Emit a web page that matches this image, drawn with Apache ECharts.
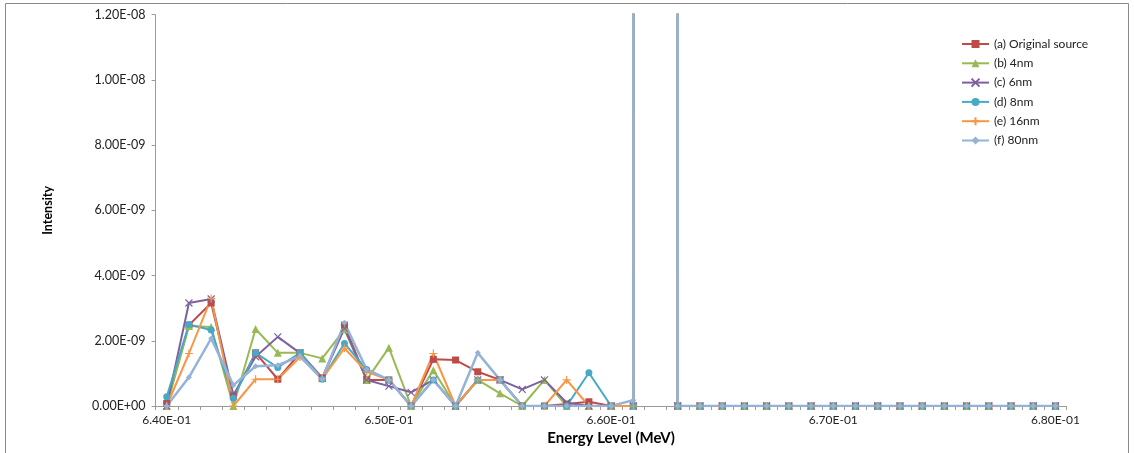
<!DOCTYPE html>
<html>
<head>
<meta charset="utf-8">
<script src="https://cdn.jsdelivr.net/npm/echarts@6/dist/echarts.min.js"></script>
<style>
  html, body { margin: 0; padding: 0; background: #fff; }
  #chart { width: 1134px; height: 453px; }
</style>
</head>
<body>
<div id="chart"></div>
<script>
// energy categories (MeV)
var energies = [
  0.640, 0.641, 0.642, 0.643, 0.644, 0.645, 0.646, 0.647, 0.648, 0.649,
  0.650, 0.651, 0.652, 0.653, 0.654, 0.655, 0.656, 0.657, 0.658, 0.659,
  0.660, 0.661, 0.662, 0.663, 0.664, 0.665, 0.666, 0.667, 0.668, 0.669,
  0.670, 0.671, 0.672, 0.673, 0.674, 0.675, 0.676, 0.677, 0.678, 0.679,
  0.680
];

// intensities (0.662 is the photopeak, far off scale)
var originalSource = [
  0.08e-9, 2.48e-9, 3.16e-9, 0.30e-9, 1.63e-9, 0.82e-9, 1.63e-9, 0.86e-9, 2.48e-9, 0.80e-9,
  0.80e-9, 0, 1.43e-9, 1.41e-9, 1.05e-9, 0.80e-9, 0, 0, 0.06e-9, 0.13e-9,
  0, 0, 1e-5, 0, 0, 0, 0, 0, 0, 0,
  0, 0, 0, 0, 0, 0, 0, 0, 0, 0,
  0
];
var nm4 = [
  0, 2.45e-9, 2.42e-9, 0, 2.36e-9, 1.63e-9, 1.63e-9, 1.46e-9, 2.35e-9, 0.80e-9,
  1.79e-9, 0, 1.10e-9, 0, 0.80e-9, 0.39e-9, 0, 0.80e-9, 0, 0,
  0, 0, 1e-5, 0, 0, 0, 0, 0, 0, 0,
  0, 0, 0, 0, 0, 0, 0, 0, 0, 0,
  0
];
var nm6 = [
  0, 3.16e-9, 3.28e-9, 0.34e-9, 1.51e-9, 2.12e-9, 1.62e-9, 0.85e-9, 2.38e-9, 0.80e-9,
  0.61e-9, 0.42e-9, 0.80e-9, 0, 0.80e-9, 0.80e-9, 0.51e-9, 0.80e-9, 0.10e-9, 0,
  0, 0, 1e-5, 0, 0, 0, 0, 0, 0, 0,
  0, 0, 0, 0, 0, 0, 0, 0, 0, 0,
  0
];
var nm8 = [
  0.28e-9, 2.50e-9, 2.33e-9, 0.24e-9, 1.63e-9, 1.18e-9, 1.63e-9, 0.82e-9, 1.92e-9, 1.12e-9,
  0.80e-9, 0, 0.80e-9, 0, 0.80e-9, 0.80e-9, 0, 0, 0, 1.02e-9,
  0, 0, 1e-5, 0, 0, 0, 0, 0, 0, 0,
  0, 0, 0, 0, 0, 0, 0, 0, 0, 0,
  0
];
var nm16 = [
  0, 1.61e-9, 3.30e-9, 0, 0.82e-9, 0.82e-9, 1.50e-9, 0.84e-9, 1.77e-9, 1.05e-9,
  0.80e-9, 0, 1.61e-9, 0, 0.80e-9, 0.80e-9, 0, 0, 0.80e-9, 0,
  0, 0, 1e-5, 0, 0, 0, 0, 0, 0, 0,
  0, 0, 0, 0, 0, 0, 0, 0, 0, 0,
  0
];
var nm80 = [
  0, 0.88e-9, 2.07e-9, 0.64e-9, 1.22e-9, 1.25e-9, 1.53e-9, 0.82e-9, 2.55e-9, 1.12e-9,
  0.80e-9, 0, 0.80e-9, 0, 1.63e-9, 0.80e-9, 0, 0, 0, 0,
  0, 0.18e-9, 1e-5, 0, 0, 0, 0, 0, 0, 0,
  0, 0, 0, 0, 0, 0, 0, 0, 0, 0,
  0
];

var seriesNames = ['(a) Original source', '(b) 4nm', '(c) 6nm', '(d) 8nm', '(e) 16nm', '(f) 80nm'];
var seriesColors = ['#BE4B48', '#98B954', '#7D60A0', '#46AAC5', '#F79646', '#95B3D7'];

var FONT = 'Lato, "Open Sans", sans-serif';

function sci(v) {
  if (v === 0) return '0.00E+00';
  var s = Number(v).toExponential(2).toUpperCase();
  var parts = s.split('E');
  var exp = parseInt(parts[1], 10);
  var sign = exp < 0 ? '-' : '+';
  var abs = Math.abs(exp);
  return parts[0] + 'E' + sign + (abs < 10 ? '0' + abs : abs);
}

var symbols = [
  { symbol: 'rect', size: 7 },
  { symbol: 'triangle', size: 8 },
  { symbol: 'path://M0,0L10,10M10,0L0,10', size: 7 },
  { symbol: 'circle', size: 7 },
  { symbol: 'path://M5,0L5,10M0,5L10,5', size: 8 },
  { symbol: 'diamond', size: 6 }
];
var allData = [originalSource, nm4, nm6, nm8, nm16, nm80];

var series = allData.map(function (d, i) {
  var stroked = i === 2 || i === 4;
  return {
    name: seriesNames[i],
    type: 'line',
    data: d,
    symbol: symbols[i].symbol,
    symbolSize: symbols[i].size,
    showAllSymbol: true,
    lineStyle: { width: i === 5 ? 2.5 : 2, color: seriesColors[i] },
    itemStyle: {
      color: seriesColors[i],
      borderColor: seriesColors[i],
      borderWidth: stroked ? 1.2 : 0
    }
  };
});

var chart = echarts.init(document.getElementById('chart'));
chart.setOption({
  animation: false,
  backgroundColor: '#fff',
  textStyle: { fontFamily: FONT },
  graphic: [{
    type: 'rect',
    shape: { x: 5.5, y: 3.5, width: 1123, height: 470 },
    style: { fill: 'none', stroke: '#8a8a8a', lineWidth: 1 },
    silent: true
  }],
  grid: { left: 155.6, right: 67.4, top: 14.7, bottom: 47, outerBoundsMode: 'none' },
  legend: {
    orient: 'vertical',
    left: 956,
    top: 33,
    itemWidth: 27,
    itemHeight: 10,
    itemGap: 7.3,
    textStyle: { fontSize: 12, color: '#222', fontFamily: FONT },
    data: seriesNames
  },
  xAxis: {
    type: 'category',
    data: energies.map(sci),
    boundaryGap: true,
    name: 'Energy Level (MeV)',
    nameLocation: 'middle',
    nameGap: 25,
    nameTextStyle: { fontSize: 15, fontWeight: 'bold', color: '#000', fontFamily: FONT },
    axisLine: { lineStyle: { color: '#9a9a9a', width: 1 } },
    axisTick: { show: true, interval: 0, length: 4, lineStyle: { color: '#9a9a9a' } },
    axisLabel: { interval: 9, fontSize: 12, color: '#222', margin: 8, fontFamily: FONT },
    splitLine: { show: false }
  },
  yAxis: {
    type: 'value',
    min: 0,
    max: 1.2e-8,
    interval: 2e-9,
    name: 'Intensity',
    nameLocation: 'middle',
    nameRotate: 90,
    nameGap: 101,
    nameTextStyle: { fontSize: 12.5, fontWeight: 'bold', color: '#000', fontFamily: FONT },
    axisLine: { show: true, lineStyle: { color: '#9a9a9a', width: 1 } },
    axisTick: { show: true, length: 4, lineStyle: { color: '#9a9a9a' } },
    axisLabel: { fontSize: 12.5, color: '#222', margin: 10, formatter: sci, fontFamily: FONT },
    splitLine: { show: false }
  },
  series: series
});
</script>
</body>
</html>
